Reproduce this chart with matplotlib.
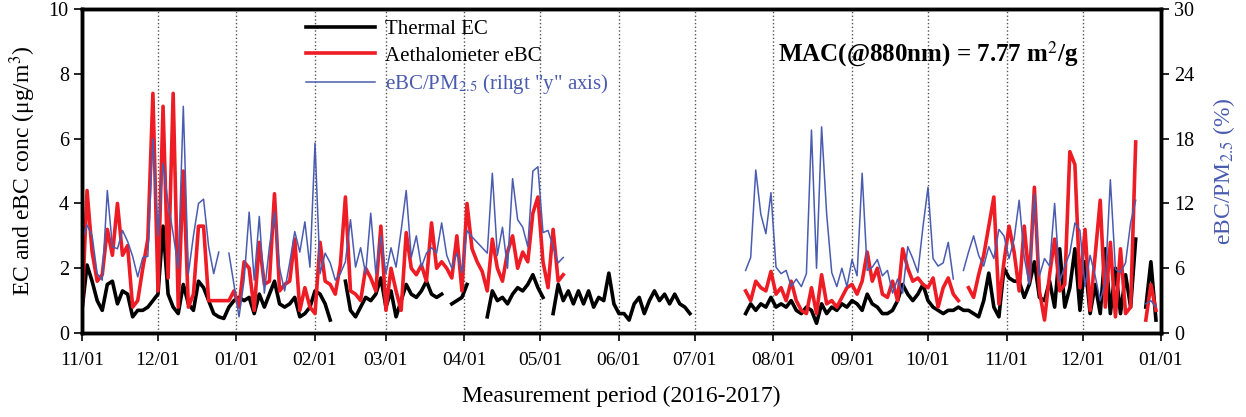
import numpy as np
import pandas as pd
import matplotlib
matplotlib.use("Agg")
import matplotlib.pyplot as plt
import matplotlib.dates as mdates

nan = np.nan

# values every 2 days starting 2016-11-01 (nan = no data)
thermal_ec = [
    0.7, 2.1, 1.6, 1.0, 0.7, 1.5, 1.6, 0.9, 1.3, 1.2,
    0.5, 0.7, 0.7, 0.8, 1.0, 1.2, 3.3, 1.2, 0.8, 0.6,
    1.5, 0.9, 0.7, 1.6, 1.4, 1.0, 0.6, 0.5, 0.45, 0.8,
    1.0, 1.1, 1.0, 1.1, 0.6, 1.2, 0.8, 1.2, 1.6, 0.9,
    0.8, 0.9, 1.1, 0.5, 0.6, 0.8, 1.3, 1.2, 0.9, 0.4,
    nan, nan, 1.6, 0.7, 0.5, 0.8, 1.1, 1.0, 1.2, 1.7,
    0.8, 1.3, 0.5, 1.0, 1.5, 1.2, 1.1, 1.3, 1.6, 1.2,
    1.1, 1.2, nan, 0.9, 1.0, 1.1, 1.5, nan, nan, nan,
    0.5, 1.3, 1.0, 1.1, 0.9, 1.2, 1.4, 1.3, 1.5, 1.8,
    1.4, 1.1, nan, 0.6, 1.5, 1.0, 1.3, 0.9, 1.3, 0.9,
    1.3, 0.8, 1.1, 1.0, 1.85, 0.9, 0.6, 0.6, 0.4, 0.9,
    1.1, 0.6, 1.0, 1.3, 1.0, 1.2, 0.9, 1.2, 0.9, 0.8,
    0.6, nan, nan, nan, nan, nan, nan, nan, nan, nan,
    nan, 0.6, 0.9, 0.7, 0.9, 0.8, 1.1, 0.8, 0.9, 0.8,
    1.0, 0.7, 0.6, 0.8, 0.7, 0.3, 0.9, 0.6, 0.8, 0.7,
    0.9, 0.8, 1.0, 0.9, 0.7, 1.2, 0.9, 0.8, 0.6, 0.6,
    0.7, 1.0, 1.5, 1.2, 1.0, 1.2, 1.5, 1.0, 0.8, 0.7,
    0.6, 0.7, 0.7, 0.8, 0.7, 0.7, 0.6, 0.5, 1.0, 1.85,
    0.8, 0.5, 2.0, 1.7, 1.6, 1.6, 1.1, 1.5, 2.2, 1.1,
    1.0, 1.6, 0.8, 2.6, 0.8, 1.4, 2.6, 0.7, 2.2, 0.6,
    1.5, 0.6, 2.6, 0.6, 2.0, 0.6, 1.8, 0.8, 2.9, nan,
    0.8, 2.2, 0.4,
]

aeth_ebc = [
    0.7, 4.4, 2.5, 1.6, 1.8, 3.2, 2.4, 4.0, 2.4, 2.7,
    0.8, 1.0, 2.0, 2.9, 7.4, 1.3, 7.0, 1.7, 7.4, 0.8,
    5.0, 0.8, 1.2, 3.3, 3.3, 1.0, 1.0, 1.0, 1.0, 1.0,
    1.3, 0.8, 2.2, 2.0, 0.7, 2.8, 1.5, 1.6, 4.3, 1.3,
    1.5, 1.6, 2.9, 0.7, 1.4, 0.8, 0.6, 2.8, 1.6, 1.5,
    1.2, 2.1, 4.2, 1.3, 1.2, 1.0, 2.0, 1.7, 1.3, 3.3,
    0.7, 2.0, 1.3, 0.7, 3.1, 2.0, 1.8, 2.1, 1.6, 3.4,
    2.0, 2.2, 2.0, 1.7, 3.0, 1.3, 4.0, 2.6, 2.2, 1.9,
    1.3, 2.9, 2.0, 1.6, 2.5, 3.0, 2.0, 2.5, 2.2, 3.7,
    4.2, 2.2, 1.4, 3.2, 1.6, 1.8, nan, nan, nan, nan,
    nan, nan, nan, nan, nan, nan, nan, nan, nan, nan,
    nan, nan, nan, nan, nan, nan, nan, nan, nan, nan,
    nan, nan, nan, nan, nan, nan, nan, nan, nan, nan,
    nan, 1.3, 1.0, 1.6, 1.4, 1.3, 1.9, 1.2, 1.4, 1.0,
    1.6, 1.0, 0.7, 0.6, 1.4, 0.6, 1.8, 0.9, 1.0, 0.8,
    1.1, 1.4, 1.5, 1.2, 1.6, 2.5, 1.6, 2.0, 1.2, 1.1,
    1.6, 1.0, 2.6, 2.0, 1.6, 1.7, 1.5, 1.4, 1.7, 0.8,
    1.4, 1.7, 1.2, 1.0, nan, 1.4, 1.1, 1.8, 2.4, 3.3,
    4.2, 0.9, 2.2, 3.3, 2.5, 1.3, 3.3, 1.6, 4.5, 1.3,
    0.4, 1.8, 2.9, 1.3, 1.5, 5.6, 5.2, 1.4, 3.2, 0.7,
    2.4, 4.1, 0.8, 2.8, 0.5, 2.6, 0.6, 0.8, 5.9, nan,
    0.4, 1.5, 0.7,
]

ebc_pm25 = [
    8.6, 10.0, 9.0, 5.5, 4.9, 13.2, 8.0, 7.8, 9.5, 8.5,
    7.1, 5.2, 7.0, 7.1, 18.0, 9.0, 15.7, 12.0, 9.2, 6.0,
    21.0, 5.5, 9.0, 12.0, 12.4, 8.0, 5.5, 7.5, nan, 7.4,
    4.5, 1.5, 4.9, 11.2, 4.9, 10.8, 3.7, 8.0, 11.2, 6.0,
    3.9, 6.5, 9.4, 7.5, 10.3, 6.1, 17.6, 5.5, 7.4, 6.5,
    4.9, 5.5, 6.6, 10.5, 6.1, 7.9, 5.5, 11.1, 5.5, 9.0,
    5.5, 7.9, 6.1, 9.5, 13.2, 7.0, 9.0, 6.1, 7.4, 7.9,
    7.4, 10.2, 7.2, 6.0, 7.4, 5.6, 9.5, 8.9, 8.4, 7.9,
    7.4, 14.8, 7.2, 9.8, 6.0, 14.3, 10.5, 9.8, 8.0, 15.0,
    15.4, 9.3, 9.5, 8.0, 6.5, 7.0, nan, nan, nan, nan,
    nan, nan, nan, nan, nan, nan, nan, nan, nan, nan,
    nan, nan, nan, nan, nan, nan, nan, nan, nan, nan,
    nan, nan, nan, nan, nan, nan, nan, nan, nan, nan,
    nan, 5.8, 7.0, 15.1, 11.0, 9.2, 13.0, 6.1, 5.5, 5.8,
    4.3, 5.0, 4.3, 5.5, 18.8, 6.0, 19.1, 11.0, 5.6, 4.3,
    6.0, 4.3, 6.8, 5.3, 14.8, 5.8, 6.1, 6.8, 5.3, 5.8,
    3.7, 5.0, 3.7, 8.0, 6.9, 5.6, 9.8, 13.5, 6.9, 6.2,
    6.5, 8.4, 5.0, nan, 5.8, 7.5, 9.0, 7.2, 6.2, 8.0,
    6.9, 9.6, 9.0, 6.9, 8.7, 12.3, 7.0, 4.5, 12.9, 5.3,
    6.9, 6.2, 12.0, 4.8, 6.2, 7.4, 10.2, 9.5, 4.3, 7.2,
    5.3, 3.0, 4.8, 14.2, 5.9, 5.6, 6.5, 10.2, 12.3, nan,
    2.7, 3.0, 2.4,
]

dates = pd.date_range("2016-11-01", periods=len(thermal_ec), freq="2D")

plt.rcParams['font.family'] = ['Liberation Serif', 'DejaVu Serif']
plt.rcParams['mathtext.fontset'] = 'stix'

red = '#ee1c24'
blue = '#4a5cb0'

fig = plt.figure(figsize=(12.46, 4.17), dpi=100)
ax = fig.add_axes([0.0658, 0.2014, 0.866, 0.7766])
ax2 = ax.twinx()

l1, = ax.plot(dates, thermal_ec, color='black', lw=2.6, label='Thermal EC')
l2, = ax.plot(dates, aeth_ebc, color=red, lw=2.6, label='Aethalometer eBC')
l3, = ax2.plot(dates, ebc_pm25, color=blue, lw=1.1,
               label='eBC/PM$_{2.5}$ (rihgt "y" axis)')

ax.set_xlim(pd.Timestamp('2016-11-01'), pd.Timestamp('2018-01-01'))
ax.set_ylim(0, 10)
ax.set_yticks(range(0, 11, 2))
ax2.set_ylim(0, 30)
ax2.set_yticks(range(0, 31, 6))

ax.xaxis.set_major_locator(mdates.MonthLocator())
ax.xaxis.set_major_formatter(mdates.DateFormatter('%m/%d'))
ax.grid(axis='x', linestyle=':', color='#555555', lw=1)

for a in (ax, ax2):
    for s in a.spines.values():
        s.set_linewidth(2.5)
    a.tick_params(direction='out', length=6, width=1.2, labelsize=14.5)
ax.tick_params(axis='x', labelsize=14, pad=8)

ax.set_ylabel('EC and eBC conc (μg/m$^3$)', fontsize=17, labelpad=8)
ax2.set_ylabel('eBC/PM$_{2.5}$ (%)', fontsize=17, color=blue, labelpad=12)
ax.set_xlabel('Measurement period (2016-2017)', fontsize=17, labelpad=12)

leg = ax2.legend(handles=[l1, l2, l3], loc='upper left',
                 bbox_to_anchor=(0.19, 1.025), frameon=False, fontsize=15,
                 handlelength=3.3, handletextpad=0.5, labelspacing=0.32)
leg.get_texts()[2].set_color(blue)

ax.text(0.645, 0.84, 'MAC(@880nm) = 7.77 m$^2$/g', transform=ax.transAxes,
        fontsize=18, fontweight='bold')

fig.savefig('out.png', dpi=100)
